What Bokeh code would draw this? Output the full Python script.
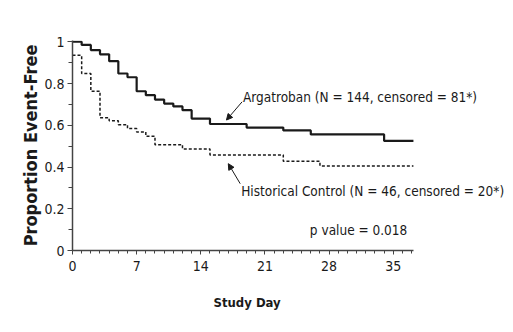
from bokeh.plotting import figure
from bokeh.models import Range1d, FixedTicker, CustomJSTickFormatter, Label, Arrow, NormalHead, Title
from bokeh.embed import file_html
from bokeh.resources import INLINE

# Data
arg_days = [0, 1, 2, 3, 4, 5, 6, 7, 8, 9, 10, 11, 12, 13, 15, 19, 23, 26, 34, 37.2]
arg_vals = [1.0, 0.985, 0.96, 0.94, 0.907, 0.848, 0.83, 0.763, 0.744, 0.723, 0.704,
            0.69, 0.672, 0.632, 0.606, 0.589, 0.575, 0.556, 0.525, 0.525]
ctl_days = [0, 1, 2, 3, 4, 5, 6, 7, 8, 9, 12, 15, 23, 27, 37.2]
ctl_vals = [0.935, 0.848, 0.763, 0.636, 0.621, 0.603, 0.584, 0.568, 0.547, 0.507,
            0.486, 0.458, 0.427, 0.405, 0.405]
x_ticks = [0, 7, 14, 21, 28, 35]
y_ticks = [0, 0.2, 0.4, 0.6, 0.8, 1.0]
arg_text = "Argatroban (N = 144, censored = 81*)"
ctl_text = "Historical Control (N = 46, censored = 20*)"
p_text = "p value = 0.018"

FONT = "'Liberation Sans Narrow', 'DejaVu Sans Condensed', 'Arial Narrow', 'Liberation Sans', sans-serif"
INK = "#1a1a1a"

p = figure(width=513, height=332, output_backend="svg", toolbar_location=None,
           x_range=Range1d(0, 47.9), y_range=Range1d(0, 1.006),
           min_border_left=72, min_border_right=2, min_border_top=40, min_border_bottom=82)
p.outline_line_color = None
p.grid.visible = False
p.background_fill_color = "white"
p.border_fill_color = "white"

p.step(arg_days, arg_vals, mode="after", line_color=INK, line_width=2.2)
p.step(ctl_days, ctl_vals, mode="after", line_color=INK, line_width=1.5, line_dash="3 2")

for ax in (p.xaxis[0], p.yaxis[0]):
    ax.axis_line_color = "#444444"
    ax.axis_line_width = 1.5
    ax.major_tick_line_color = "#444444"
    ax.minor_tick_line_color = "#444444"
    ax.major_tick_in = 0
    ax.minor_tick_in = 0
    ax.major_label_text_font = FONT
    ax.major_label_text_color = INK
    ax.axis_label_text_font = FONT
    ax.axis_label_text_font_style = "bold"
    ax.axis_label_text_color = INK

p.xaxis.bounds = (0, 37.2)
p.xaxis.ticker = FixedTicker(ticks=x_ticks, minor_ticks=list(range(0, 38)))
p.yaxis.ticker = FixedTicker(ticks=y_ticks, minor_ticks=[i / 10 for i in range(11)])
p.yaxis.formatter = CustomJSTickFormatter(code="return (Math.round(tick*10)/10).toString();")

p.xaxis.major_tick_out = 4
p.xaxis.minor_tick_out = 3
p.yaxis.major_tick_out = 5
p.yaxis.minor_tick_out = 4
p.xaxis.major_label_text_font_size = "14px"
p.yaxis.major_label_text_font_size = "14px"
p.xaxis.major_label_standoff = 6
p.yaxis.major_label_standoff = 3

p.yaxis.axis_label = "Proportion Event-Free"
p.yaxis.axis_label_text_font_size = "18px"
p.yaxis.axis_label_standoff = 0

p.add_layout(Title(text="Study Day", align="left", offset=141, vertical_align="top",
                   standoff=42, text_font=FONT, text_font_size="13px",
                   text_font_style="bold", text_color=INK), "below")

for txt, tx, ty in ((arg_text, 18.6, 0.736), (ctl_text, 18.4, 0.283), (p_text, 25.9, 0.096)):
    p.add_layout(Label(x=tx, y=ty, text=txt, text_font=FONT, text_font_size="13.5px",
                       text_color=INK, text_align="left", text_baseline="middle"))

for xs, ys, xe, ye in ((18.5, 0.712, 16.8, 0.625), (18.3, 0.32, 17.0, 0.416)):
    p.add_layout(Arrow(x_start=xs, y_start=ys, x_end=xe, y_end=ye,
                       line_color=INK, line_width=1,
                       end=NormalHead(size=6, fill_color=INK, line_color=INK)))

open("out.html", "w").write(file_html(p, INLINE))
